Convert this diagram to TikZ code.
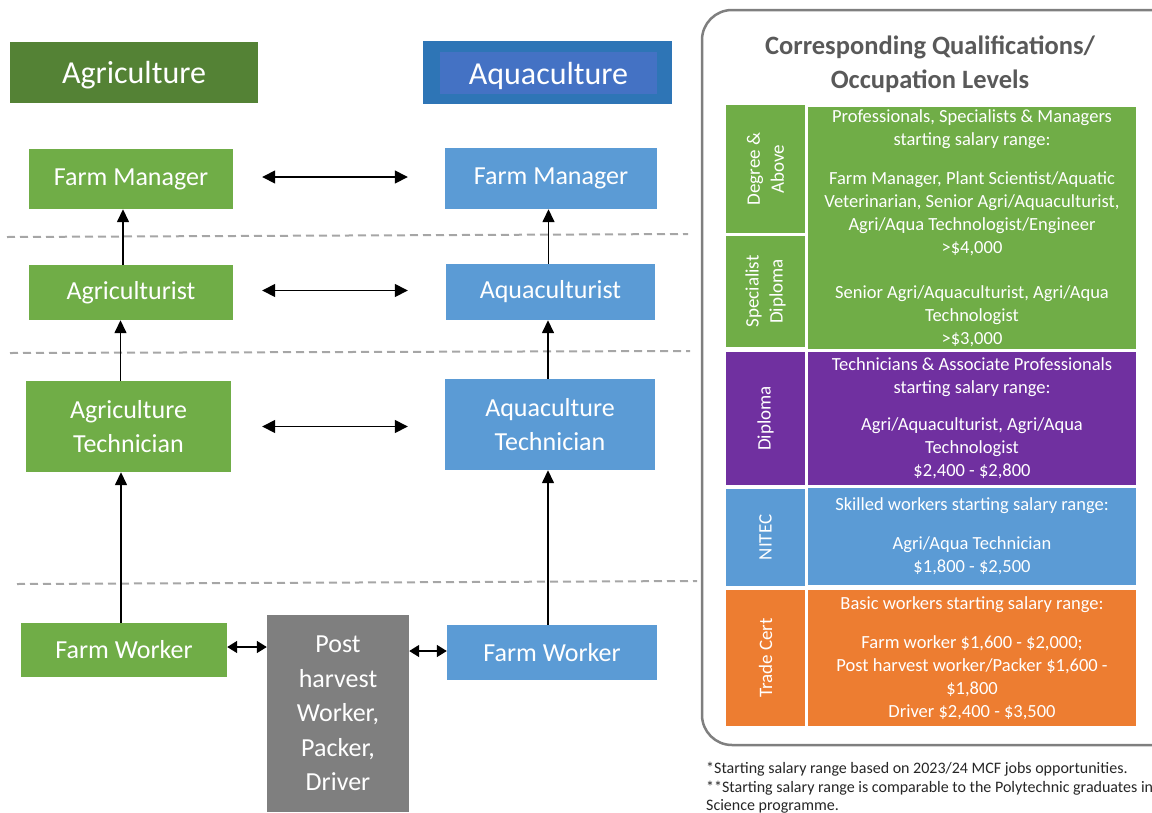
\documentclass[tikz,border=0pt]{standalone}
\usepackage{fontspec}
\setmainfont{Carlito}
\usetikzlibrary{arrows.meta}

\definecolor{agrihead}{HTML}{548235}
\definecolor{agribox}{HTML}{70AD47}
\definecolor{aquaouter}{HTML}{2E75B6}
\definecolor{aquainner}{HTML}{4472C4}
\definecolor{aquabox}{HTML}{5B9BD5}
\definecolor{postgray}{HTML}{7F7F7F}
\definecolor{dipurple}{HTML}{7030A0}
\definecolor{tradeorange}{HTML}{ED7D31}
\definecolor{titlegray}{HTML}{595959}
\definecolor{dashgray}{HTML}{A6A6A6}

\tikzset{
  jobbox/.style={fill=#1, text=white, inner sep=0pt, align=center,
    font=\fontsize{26}{34.5}\selectfont},
  headbox/.style={fill=#1, text=white, inner sep=0pt, text depth=0pt,
    font=\fontsize{32}{36}\selectfont},
  levelcell/.style={fill=#1, text=white, inner sep=0pt, align=center,
    rotate=90, minimum height=79pt, font=\fontsize{19}{24}\selectfont},
  paycell/.style={fill=#1, text=white, inner sep=0pt, align=center,
    minimum width=328pt, font=\fontsize{18.5}{23}\selectfont},
  uparrow/.style={line width=1.5pt, -{Triangle[length=13pt,width=12pt]}},
  twoway/.style={line width=1.5pt, {Triangle[length=13pt,width=13pt]}-{Triangle[length=13pt,width=13pt]}},
  shortway/.style={line width=1.5pt, {Triangle[length=10pt,width=12pt]}-{Triangle[length=10pt,width=12pt]}},
  divider/.style={dashgray, line width=2pt, dash pattern=on 8pt off 5pt},
}

\begin{document}
\begin{tikzpicture}[x=1pt, y=-1pt]
\useasboundingbox (0,0) rectangle (1152,812);

% sector headings
\node[headbox=agrihead, minimum width=248pt, minimum height=61pt] (agri) at (134,72.5) {Agriculture};
\node[headbox=aquaouter, minimum width=249pt, minimum height=63pt] (aquaback) at (547.5,72.5) {};
\node[headbox=aquainner, minimum width=217pt, minimum height=42pt] (aqua) at (548.5,73) {Aquaculture};

% level dividers
\draw[divider] (7,237) -- (688,234);
\draw[divider] (10,353) -- (690,351);
\draw[divider] (17,584) -- (697,581);

% agriculture ladder
\node[jobbox=agribox, minimum width=204pt, minimum height=60pt] (amgr) at (131,179) {Farm Manager};
\node[jobbox=agribox, minimum width=204pt, minimum height=55pt] (aist) at (131,292.5) {Agriculturist};
\node[jobbox=agribox, minimum width=205pt, minimum height=91pt] (atech) at (128.5,426.5) {Agriculture\\Technician};
\node[jobbox=agribox, minimum width=206pt, minimum height=54pt] (awork) at (124,650) {Farm Worker};

% aquaculture ladder
\node[jobbox=aquabox, minimum width=212pt, minimum height=61pt] (bmgr) at (551,178.5) {Farm Manager};
\node[jobbox=aquabox, minimum width=209pt, minimum height=56pt] (bist) at (550.5,292) {Aquaculturist};
\node[jobbox=aquabox, minimum width=210pt, minimum height=91pt] (btech) at (550,424.5) {Aquaculture\\Technician};
\node[jobbox=aquabox, minimum width=210pt, minimum height=55pt] (bwork) at (552,652.5) {Farm Worker};

% shared entry job
\node[jobbox=postgray, minimum width=142pt, minimum height=197pt] (post) at (338,713.5)
  {Post\\harvest\\Worker,\\Packer,\\Driver};

% progression
\draw[uparrow] ([xshift=-8pt]aist.north) -- ([xshift=-8pt]aist.north |- amgr.south);
\draw[uparrow] ([xshift=-8pt]atech.north) -- ([xshift=-8pt]atech.north |- aist.south);
\draw[uparrow] ([xshift=-3pt]awork.north) -- ([xshift=-3pt]awork.north |- atech.south);
\draw[uparrow] ([xshift=-2pt]bist.north) -- ([xshift=-2pt]bist.north |- bmgr.south);
\draw[uparrow] ([xshift=-2pt]btech.north) -- ([xshift=-2pt]btech.north |- bist.south);
\draw[uparrow] ([xshift=-4pt]bwork.north) -- ([xshift=-4pt]bwork.north |- btech.south);

% cross-sector equivalents
\draw[twoway, shorten <=29pt, shorten >=37pt] ([yshift=2pt]amgr.east) -- ([yshift=2pt]amgr.east -| bmgr.west);
\draw[twoway, shorten <=29pt, shorten >=38pt] ([yshift=2pt]aist.east) -- ([yshift=2pt]aist.east -| bist.west);
\draw[twoway, shorten <=31pt, shorten >=37pt] (atech.east) -- (atech.east -| btech.west);
\draw[shortway] ([yshift=3pt]awork.east) -- ([yshift=3pt]awork.east -| post.west);
\draw[shortway] ([yshift=1.5pt]bwork.west) -- ([yshift=1.5pt]bwork.west -| post.east);

% qualification panel
\draw[postgray, line width=2.5pt, rounded corners=30pt] (702,10) rectangle (1185,745);
\node[text=titlegray, align=center, font=\bfseries\fontsize{26.5}{34}\selectfont] (title) at (930,64)
  {Corresponding Qualifications/\\Occupation Levels};

\node[levelcell=agribox, minimum width=128pt] (degree) at (765.5,169) {Degree \&\\Above};
\node[levelcell=agribox, minimum width=111pt] (specdip) at (765.5,291.5) {Specialist\\Diploma};
\node[levelcell=dipurple, minimum width=133pt] (diploma) at (765.5,418.5) {Diploma};
\node[levelcell=aquabox, minimum width=97pt] (nitec) at (765.5,537.5) {NITEC};
\node[levelcell=tradeorange, minimum width=136pt] (trade) at (765.5,658) {Trade Cert};

\node[paycell=agribox, minimum height=242pt] (paytop) at (972,228)
  {Professionals, Specialists \& Managers\\starting salary range:\\[16pt]
   Farm Manager, Plant Scientist/Aquatic\\Veterinarian, Senior Agri/Aquaculturist,\\
   Agri/Aqua Technologist/Engineer\\>\$4,000\\[22pt]
   Senior Agri/Aquaculturist, Agri/Aqua\\Technologist\\>\$3,000};
\node[paycell=dipurple, minimum height=133pt] (paydip) at (972,418.5)
  {Technicians \& Associate Professionals\\starting salary range:\\[14pt]
   Agri/Aquaculturist, Agri/Aqua\\Technologist\\\$2,400 - \$2,800};
\node[paycell=aquabox, minimum height=97pt] (paynitec) at (972,536.5)
  {Skilled workers starting salary range:\\[16pt]
   Agri/Aqua Technician\\\$1,800 - \$2,500};
\node[paycell=tradeorange, minimum height=136pt] (paytrade) at (972,658)
  {Basic workers starting salary range:\\[16pt]
   Farm worker \$1,600 - \$2,000;\\Post harvest worker/Packer \$1,600 -\\
   \$1,800\\Driver \$2,400 - \$3,500};

% notes
\node[anchor=north west, align=left, inner sep=0pt, text=black!85,
  font=\fontsize{16}{18.5}\selectfont] (notes) at (706,762)
  {*Starting salary range based on 2023/24 MCF jobs opportunities.\\
   **Starting salary range is comparable to the Polytechnic graduates in\\
   Science programme.};
\end{tikzpicture}
\end{document}
